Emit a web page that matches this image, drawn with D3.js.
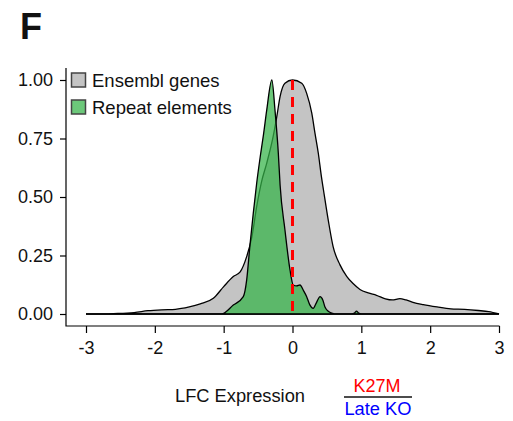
<!DOCTYPE html>
<html>
<head>
<meta charset="utf-8">
<script src="https://cdn.jsdelivr.net/npm/d3@7"></script>
<style>
  html, body { margin: 0; padding: 0; background: #fff; }
  svg { display: block; font-family: "Liberation Sans", Arial, sans-serif; }
</style>
</head>
<body>
<svg id="chart" width="513" height="421"></svg>
<script>
// Scaled density of log fold change (K27M / Late KO)
const ensemblLfc = [-3, -2.6, -2.3, -2.1, -1.9, -1.7, -1.5, -1.34, -1.15, -1.0, -0.86, -0.76, -0.666, -0.59, -0.52, -0.45, -0.375, -0.28, -0.23, -0.18, -0.11, 0, 0.134, 0.206, 0.28, 0.327, 0.375, 0.42, 0.45, 0.52, 0.59, 0.69, 0.79, 0.88, 0.98, 1.1, 1.22, 1.35, 1.45, 1.56, 1.65, 1.75, 1.9, 2.1, 2.3, 2.5, 2.7, 2.85, 3];
const ensemblDensity = [0, 0.002, 0.006, 0.014, 0.018, 0.02, 0.03, 0.043, 0.067, 0.117, 0.16, 0.18, 0.245, 0.33, 0.46, 0.565, 0.644, 0.76, 0.84, 0.93, 0.986, 1.0, 0.986, 0.943, 0.858, 0.772, 0.687, 0.587, 0.53, 0.40, 0.288, 0.21, 0.16, 0.13, 0.105, 0.09, 0.08, 0.065, 0.06, 0.066, 0.06, 0.05, 0.04, 0.03, 0.022, 0.02, 0.015, 0.01, 0];

const repeatLfc = [-3, -1.03, -0.86, -0.715, -0.666, -0.62, -0.57, -0.52, -0.47, -0.42, -0.375, -0.30, -0.254, -0.206, -0.18, -0.11, -0.036, 0.01, 0.06, 0.109, 0.16, 0.206, 0.25, 0.30, 0.35, 0.40, 0.44, 0.47, 0.52, 0.57, 0.65, 0.86, 0.9, 0.93, 0.96, 1.0, 3];
const repeatDensity = [0, 0, 0.038, 0.074, 0.145, 0.288, 0.43, 0.56, 0.67, 0.77, 0.87, 1.0, 0.87, 0.687, 0.55, 0.36, 0.188, 0.124, 0.12, 0.124, 0.10, 0.074, 0.04, 0.024, 0.05, 0.074, 0.06, 0.031, 0.012, 0.004, 0, 0, 0.004, 0.012, 0.004, 0, 0];

const xTicks = [-3, -2, -1, 0, 1, 2, 3];
const yTicks = [0, 0.25, 0.5, 0.75, 1];
const seriesNames = ["Ensembl genes", "Repeat elements"];
const seriesFill = ["#c4c4c4", "rgba(53,179,73,0.73)"];

const svg = d3.select("#chart");
const x = d3.scaleLinear().domain([-3, 3]).range([86, 499]);
const y = d3.scaleLinear().domain([0, 1]).range([314, 80]);

const axisX0 = 66, axisY0 = 326;

// panel letter
svg.append("text").attr("x", 20).attr("y", 39)
  .attr("font-size", 36).attr("font-weight", "bold").attr("fill", "#111").text("F");

// density areas
const area = d3.area().curve(d3.curveMonotoneX)
  .x(d => x(d[0])).y0(y(0)).y1(d => y(d[1]));

const ensembl = d3.zip(ensemblLfc, ensemblDensity);
const repeat = d3.zip(repeatLfc, repeatDensity);

svg.append("path").datum(ensembl).attr("d", area)
  .attr("fill", seriesFill[0]).attr("stroke", "#000").attr("stroke-width", 1.3);
svg.append("path").datum(repeat).attr("d", area)
  .attr("fill", seriesFill[1]).attr("stroke", "#000").attr("stroke-width", 1.3);

// reference line at LFC = 0
svg.append("line")
  .attr("x1", x(0)).attr("x2", x(0)).attr("y1", y(1)).attr("y2", y(0))
  .attr("stroke", "#ff0000").attr("stroke-width", 3).attr("stroke-dasharray", "10,7");

// axes
const yAxis = svg.append("g").attr("transform", `translate(${axisX0},0)`)
  .call(d3.axisLeft(y).tickValues(yTicks).tickFormat(d3.format(".2f")).tickSize(6).tickPadding(7));
const xAxis = svg.append("g").attr("transform", `translate(0,${axisY0})`)
  .call(d3.axisBottom(x).tickValues(xTicks).tickFormat(d => d).tickSize(7).tickPadding(8));
[yAxis, xAxis].forEach(g => {
  g.select(".domain").remove();
  g.selectAll("line").attr("stroke", "#000").attr("stroke-width", 1.2);
  g.selectAll("text").attr("font-size", 18).attr("fill", "#111")
    .attr("font-family", "'Liberation Sans', Arial, sans-serif");
});
svg.append("path")
  .attr("d", `M${axisX0},68V${axisY0}H${x(3) + 0.5}`)
  .attr("fill", "none").attr("stroke", "#000").attr("stroke-width", 1.2);

// legend
const legend = svg.append("g");
seriesNames.forEach((name, i) => {
  const top = 73 + i * 27;
  legend.append("rect").attr("x", 71.5).attr("y", top).attr("width", 14).attr("height", 14)
    .attr("fill", seriesFill[i]).attr("stroke", "#444").attr("stroke-width", 1.5);
  legend.append("text").attr("x", 92).attr("y", top + 14)
    .attr("font-size", 18.5).attr("fill", "#111").text(name);
});

// axis title with ratio
svg.append("text").attr("x", 240).attr("y", 402).attr("text-anchor", "middle")
  .attr("font-size", 18.3).attr("fill", "#111").text("LFC Expression");
svg.append("text").attr("x", 377).attr("y", 392).attr("text-anchor", "middle")
  .attr("font-size", 18).attr("fill", "#ff0000").text("K27M");
svg.append("line").attr("x1", 344).attr("x2", 412).attr("y1", 397).attr("y2", 397)
  .attr("stroke", "#111").attr("stroke-width", 1.3);
svg.append("text").attr("x", 378).attr("y", 415).attr("text-anchor", "middle")
  .attr("font-size", 18.3).attr("fill", "#0000ff").text("Late KO");
</script>
</body>
</html>
